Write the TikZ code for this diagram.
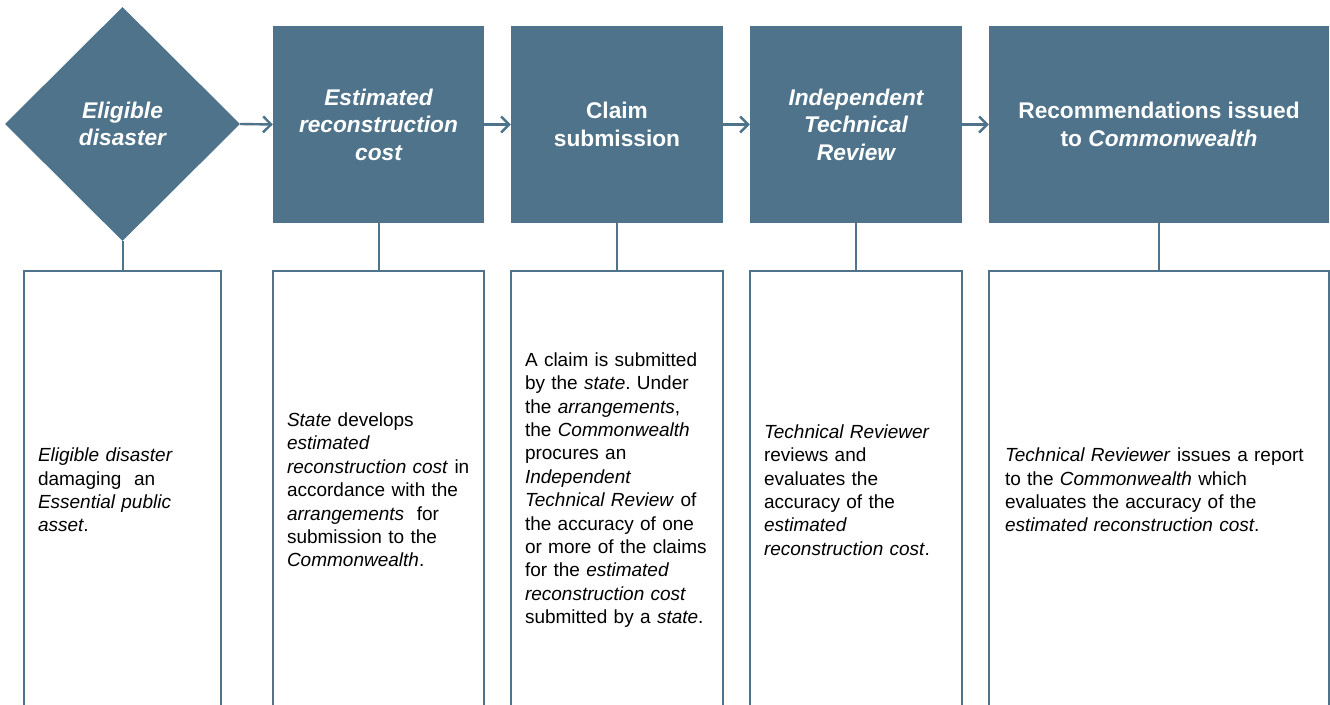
\documentclass[tikz,border=0pt]{standalone}
\usepackage{fontspec}
\setmainfont{Liberation Sans}
\frenchspacing
\usetikzlibrary{shapes.geometric,arrows.meta}
\definecolor{slate}{RGB}{78,115,138}
\begin{document}
\begin{tikzpicture}[x=1pt,y=-1pt,
  headfont/.style={font=\fontsize{22.7}{27.5}\selectfont\bfseries\frenchspacing, text=white, align=center},
  headbox/.style={rectangle, fill=slate, draw=none, minimum height=197pt, inner sep=0pt, headfont},
  headdia/.style={diamond, aspect=1, fill=slate, draw=none, minimum width=235pt, minimum height=234pt, inner sep=0pt, headfont},
  bodybox/.style={rectangle, draw=slate, line width=1.2pt, fill=white, minimum height=438pt, inner xsep=14pt, inner ysep=0pt, align=left, font=\fontsize{19}{23.4}\selectfont\frenchspacing, text=black},
  flow/.style={draw=slate, line width=2.4pt, -{Straight Barb[length=8pt,width=16pt,line width=2.4pt]}},
  link/.style={draw=slate, line width=2pt}
]
\clip (0,0) rectangle (1330,704);
\fill[white] (0,0) rectangle (1330,704);

% top row
\node[headdia] (d1) at (122.5,124) {\itshape Eligible\\\itshape disaster};
\node[headbox, minimum width=211pt] (h2) at (378.5,124.5) {\itshape Estimated\\\itshape reconstruction\\\itshape cost};
\node[headbox, minimum width=212pt] (h3) at (617,124.5) {Claim\\submission};
\node[headbox, minimum width=212pt] (h4) at (856,124.5) {\itshape Independent\\\itshape Technical\\\itshape Review};
\node[headbox, minimum width=340pt] (h5) at (1159,124.5) {Recommendations issued\\to \textit{Commonwealth}};

% bottom row
\node[bodybox, text width=169pt] (b1) at (122.5,490) {\textit{Eligible disaster}\\damaging\ \ an\\\textit{Essential public}\\\textit{asset}.};
\node[bodybox, text width=183pt] (b2) at (378.5,490) {\textit{State} develops\\\textit{estimated}\\\textit{reconstruction cost} in\\accordance with the\\\textit{arrangements}\ \ for\\submission to the\\\textit{Commonwealth}.};
\node[bodybox, text width=184pt] (b3) at (617,490) {A claim is submitted\\by the \textit{state}. Under\\the \textit{arrangements},\\the \textit{Commonwealth}\\procures an\\\textit{Independent}\\\textit{Technical Review} of\\the accuracy of one\\or more of the claims\\for the \textit{estimated}\\\textit{reconstruction cost}\\submitted by a \textit{state}.};
\node[bodybox, text width=184pt] (b4) at (856,490) {\textit{Technical Reviewer}\\reviews and\\evaluates the\\accuracy of the\\\textit{estimated}\\\textit{reconstruction cost}.};
\node[bodybox, inner xsep=16pt, text width=308pt] (b5) at (1159,490) {\textit{Technical Reviewer} issues a report\\to the \textit{Commonwealth} which\\evaluates the accuracy of the\\\textit{estimated reconstruction cost}.};

% arrows
\draw[flow] (d1.east) -- (h2.west);
\draw[flow] (h2.east) -- (h3.west);
\draw[flow] (h3.east) -- (h4.west);
\draw[flow] (h4.east) -- (h5.west);

% vertical links
\draw[link] (d1.south) -- (b1.north);
\draw[link] (h2.south) -- (b2.north);
\draw[link] (h3.south) -- (b3.north);
\draw[link] (h4.south) -- (b4.north);
\draw[link] (h5.south) -- (b5.north);
\end{tikzpicture}
\end{document}
